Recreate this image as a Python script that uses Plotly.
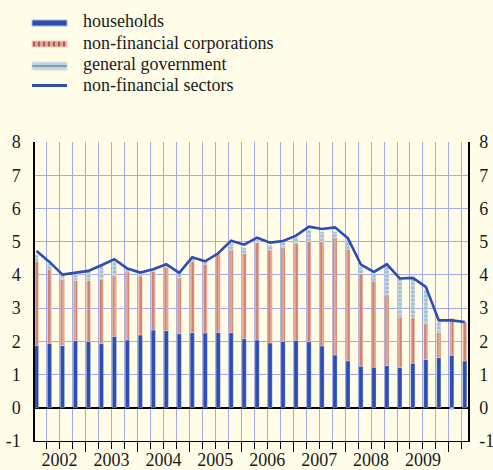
import plotly.graph_objects as go

# ---- data (percentage points), quarterly 2002Q1 - 2010Q2 ----
quarters = [f"{y}Q{q}" for y in range(2002, 2011) for q in range(1, 5)][:34]
years = ["2002", "2003", "2004", "2005", "2006", "2007", "2008", "2009"]
y_ticks = [-1, 0, 1, 2, 3, 4, 5, 6, 7, 8]
y_labels = ["-1", "0", "1", "2", "3", "4", "5", "6", "7", "8"]

households = [1.87, 1.94, 1.87, 2.02, 2.00, 1.93, 2.15, 2.04, 2.19, 2.34, 2.32, 2.23,
              2.26, 2.25, 2.27, 2.26, 2.08, 2.04, 1.95, 2.00, 2.03, 1.99, 1.86, 1.59,
              1.41, 1.25, 1.22, 1.27, 1.21, 1.34, 1.45, 1.51, 1.58, 1.41]
nonfin_corp = [2.54, 2.23, 1.99, 1.81, 1.83, 1.94, 1.82, 2.05, 1.77, 1.77, 1.90, 1.68,
               2.15, 2.07, 2.36, 2.49, 2.57, 2.93, 2.80, 2.83, 2.92, 3.01, 3.14, 3.53,
               3.36, 2.79, 2.59, 2.13, 1.52, 1.37, 1.08, 0.76, 1.11, 1.17]
general_gov = [0.19, 0.17, 0.13, 0.21, 0.28, 0.40, 0.43, 0.08, 0.09, 0.04, 0.08, 0.11,
               0.09, 0.06, 0.02, 0.20, 0.17, 0.08, 0.15, 0.15, 0.18, 0.35, 0.30, 0.18,
               0.28, 0.20, 0.18, 0.84, 1.15, 1.17, 1.03, 0.31, -0.07, 0.01]
nonfin_sectors = [4.72, 4.39, 4.01, 4.06, 4.12, 4.29, 4.47, 4.19, 4.07, 4.17, 4.32, 4.06,
                  4.53, 4.41, 4.65, 5.03, 4.91, 5.12, 4.97, 5.02, 5.18, 5.45, 5.38, 5.43,
                  5.10, 4.31, 4.09, 4.32, 3.89, 3.91, 3.64, 2.63, 2.63, 2.58]

# ---- styles ----
BG = "#FFFDE8"
GRID = "#A6AAE8"
BLUE = "#2D4DAF"
PINK = "#DDA594"
RED = "#B03A2C"
GOVBG = "#BFD2DD"
GOVFG = "#6A90A8"
FONT = "'Liberation Serif', 'Times New Roman', Times, 'DejaVu Serif', serif"
FS = 18

xpos = list(range(len(quarters)))
GRID_OFF = -0.22
year_centers = [4 * k + 1.5 + GRID_OFF + 0.5 for k in range(len(years))]
XR = [-0.115, 33.25]
BW = 0.32

fig = go.Figure()
fig.add_trace(go.Bar(x=xpos, y=households, width=BW, name="households",
                     marker=dict(color=BLUE, line=dict(color="rgba(200,210,240,0.7)", width=0.5))))
fig.add_trace(go.Bar(x=xpos, y=nonfin_corp, width=BW, name="non-financial corporations",
                     marker=dict(color=PINK,
                                 pattern=dict(shape="|", fgcolor=RED, bgcolor=PINK, size=4, solidity=0.3),
                                 line=dict(color="rgba(250,225,215,0.7)", width=0.5))))
fig.add_trace(go.Bar(x=xpos, y=general_gov, width=BW, name="general government",
                     marker=dict(color=GOVBG,
                                 pattern=dict(shape="-", fgcolor=GOVFG, bgcolor=GOVBG, size=4, solidity=0.3),
                                 line=dict(color="rgba(230,240,245,0.7)", width=0.5))))
fig.add_trace(go.Scatter(x=xpos, y=nonfin_sectors, mode="lines", name="non-financial sectors",
                         line=dict(color=BLUE, width=2.6), xaxis="x2", yaxis="y2"))

fig.update_layout(
    width=493, height=470,
    margin=dict(l=35, r=25, t=142, b=29, autoexpand=False),
    paper_bgcolor=BG, plot_bgcolor=BG,
    barmode="relative", showlegend=False,
    font=dict(family=FONT, size=FS, color="#1a1a1a"),
    xaxis=dict(range=XR, tickmode="linear", tick0=GRID_OFF, dtick=4, automargin=False,
               showgrid=True, gridcolor=GRID, gridwidth=1,
               ticks="outside", ticklen=10, tickcolor="black", tickwidth=1.3,
               showticklabels=False, showline=True, linecolor="black", linewidth=1.3,
               zeroline=False,
               minor=dict(tick0=GRID_OFF, dtick=1, showgrid=True, gridcolor=GRID, gridwidth=1,
                          ticks="outside", ticklen=7, tickcolor="black", tickwidth=1.3)),
    xaxis2=dict(range=XR, overlaying="x", anchor="y", side="bottom", automargin=False,
                tickmode="array", tickvals=year_centers, ticktext=years,
                showgrid=False, ticks="", showline=False, zeroline=False,
                ticklabelstandoff=6, ticklabeloverflow="allow", tickfont=dict(family=FONT, size=FS)),
    yaxis=dict(range=[-1, 8], tickmode="array", tickvals=y_ticks, ticktext=y_labels, automargin=False,
               showgrid=True, gridcolor=GRID, gridwidth=1,
               showline=True, linecolor="black", linewidth=1.5,
               zeroline=True, zerolinecolor="black", zerolinewidth=1.6,
               ticks="", ticklabelstandoff=9, tickfont=dict(family=FONT, size=FS)),
    yaxis2=dict(range=[-1, 8], tickmode="array", tickvals=y_ticks, ticktext=y_labels,
                overlaying="y", side="right", automargin=False,
                showgrid=False, showline=True, linecolor="black", linewidth=1.5,
                zeroline=False, ticks="", ticklabelstandoff=6, ticklabeloverflow="allow",
                tickfont=dict(family=FONT, size=FS)),
)

# ---- manual legend (pixel -> paper helpers) ----
PL, PW, PB, PH = 35.0, 433.0, 441.0, 299.0
def px(x):
    return (x - PL) / PW
def py(y):
    return (PB - y) / PH

shapes = []
shapes.append(dict(type="rect", xref="paper", yref="paper", x0=px(32), x1=px(67), y0=py(26), y1=py(20),
                   fillcolor=BLUE, line=dict(color="#AAB8E6", width=1)))
shapes.append(dict(type="rect", xref="paper", yref="paper", x0=px(32), x1=px(67), y0=py(47), y1=py(41),
                   fillcolor=PINK, line=dict(color="#F0D2C8", width=1)))
for sx in range(34, 67, 5):
    shapes.append(dict(type="line", xref="paper", yref="paper", x0=px(sx), x1=px(sx), y0=py(46.5), y1=py(41.5),
                       line=dict(color=RED, width=1.4)))
shapes.append(dict(type="rect", xref="paper", yref="paper", x0=px(32), x1=px(67), y0=py(70), y1=py(62),
                   fillcolor=GOVBG, line=dict(color="#DCE6EC", width=1)))
shapes.append(dict(type="line", xref="paper", yref="paper", x0=px(32), x1=px(67), y0=py(66), y1=py(66),
                   line=dict(color=GOVFG, width=1.5)))
shapes.append(dict(type="line", xref="paper", yref="paper", x0=px(32), x1=px(67), y0=py(85.5), y1=py(85.5),
                   line=dict(color=BLUE, width=3)))
fig.update_layout(shapes=shapes)

legend_labels = ["households", "non-financial corporations", "general government", "non-financial sectors"]
legend_rows = [21, 43, 64, 85]
for lab, ry in zip(legend_labels, legend_rows):
    fig.add_annotation(text=lab, xref="paper", yref="paper", x=px(81), y=py(ry),
                       xanchor="left", yanchor="middle", showarrow=False,
                       font=dict(family=FONT, size=FS, color="#1a1a1a"))

fig.write_html("out.html", config={"displayModeBar": False},
               post_script="document.body.style.margin='0';document.body.style.padding='0';"
                           "document.body.style.overflow='hidden';")
